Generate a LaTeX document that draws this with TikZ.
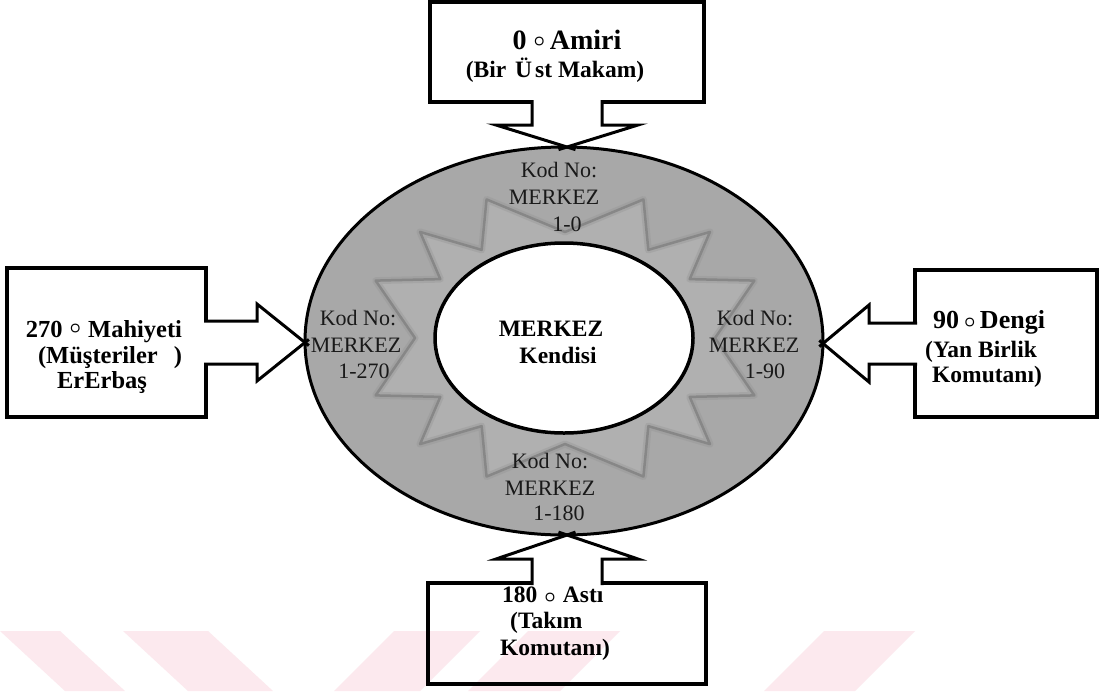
\documentclass[tikz,border=0pt]{standalone}
\usepackage{amsmath}
\usepackage{fontspec}
\setmainfont{Liberation Serif}
\usetikzlibrary{calc,shapes.geometric}

\definecolor{ringgray}{RGB}{168,168,168}
\definecolor{stargray}{RGB}{176,176,176}
\definecolor{staredge}{RGB}{135,135,135}
\definecolor{starhalo}{RGB}{150,150,150}
\definecolor{markpink}{RGB}{252,233,238}

\newcommand{\dg}[1][0pt]{\raisebox{#1}{\scalebox{0.8}{$\boldsymbol{\circ}$}}}

\begin{document}
\begin{tikzpicture}[x=1pt,y=-1pt,
  box/.style={draw=black,line width=3.2pt,rectangle,inner sep=0pt,outer sep=0pt},
  arrowline/.style={draw=black,line width=3pt,line join=miter,line cap=butt},
  lbl/.style={inner sep=0pt,anchor=base,text=black},
  bx/.style={lbl,font=\fontsize{#1}{#1}\selectfont\bfseries},
  ringtxt/.style={lbl,font=\fontsize{22}{22}\selectfont,text=black!90},
  starpath/.style={line join=round}]

\useasboundingbox (0,0) rectangle (1102,691);
\fill[white] (0,0) rectangle (1102,691);

% faint diagonal bands along the bottom edge
\fill[markpink] (0,631) -- (60,631) -- (125,691) -- (65,691) -- cycle;
\fill[markpink] (123,631) -- (208,631) -- (273,691) -- (188,691) -- cycle;
\fill[markpink] (394,631) -- (480,631) -- (420,691) -- (334,691) -- cycle;
\fill[markpink] (528,631) -- (620,631) -- (560,691) -- (468,691) -- cycle;
\fill[markpink] (824,631) -- (915,631) -- (855,691) -- (764,691) -- cycle;

% outer ring
\node[ellipse,draw=black,line width=3pt,fill=ringgray,minimum width=518pt,
      minimum height=388pt,inner sep=0pt,outer sep=0pt] (ring) at (564,341) {};

% twelve-pointed star inside the ring
\def\starring{(0:150 and 106) -- (22.5:205 and 150) -- (33.75:150 and 106) --
    (45:205 and 150) -- (56.25:150 and 106) -- (67.5:205 and 150) --
    (90:150 and 106) -- (112.5:205 and 150) -- (123.75:150 and 106) --
    (135:205 and 150) -- (146.25:150 and 106) -- (157.5:205 and 150) --
    (180:150 and 106) -- (202.5:205 and 150) -- (213.75:150 and 106) --
    (225:205 and 150) -- (236.25:150 and 106) -- (247.5:205 and 150) --
    (270:150 and 106) -- (292.5:205 and 150) -- (303.75:150 and 106) --
    (315:205 and 150) -- (326.25:150 and 106) -- (337.5:205 and 150) -- cycle}
\begin{scope}[shift={(565,338)}]
  \fill[stargray] \starring;
  \draw[starpath,starhalo,line width=7pt,opacity=0.4] \starring;
  \draw[starpath,staredge,line width=2.5pt] \starring;
\end{scope}

% centre
\node[ellipse,draw=black,line width=3.5pt,fill=white,minimum width=258pt,
      minimum height=190pt,inner sep=0pt,outer sep=0pt] (core) at (564,338) {};
\node[bx=23.5] (coreA) at (551,336) {MERKEZ};
\node[bx=23.5] (coreB) at (558,363) {Kendisi};

% ring labels
\node[ringtxt] (nA1) at (559,177) {Kod No:};
\node[ringtxt] (nA2) at (554,204) {MERKEZ};
\node[ringtxt] (nA3) at (567,231) {1-0};
\node[ringtxt] (wA1) at (358,325) {Kod No:};
\node[ringtxt] (wA2) at (356,352) {MERKEZ};
\node[ringtxt] (wA3) at (364,378) {1-270};
\node[ringtxt] (eA1) at (755,325) {Kod No:};
\node[ringtxt] (eA2) at (754,352) {MERKEZ};
\node[ringtxt] (eA3) at (765,378) {1-90};
\node[ringtxt] (sA1) at (550,468) {Kod No:};
\node[ringtxt] (sA2) at (550,495) {MERKEZ};
\node[ringtxt] (sA3) at (559,520) {1-180};

% outer boxes
\node[box,minimum width=274pt,minimum height=100pt] (amir) at (567,52) {};
\node[box,minimum width=199pt,minimum height=149pt] (mahiy) at (106.5,342.5) {};
\node[box,minimum width=182pt,minimum height=147pt] (deng) at (1006,343.5) {};
\node[box,minimum width=278pt,minimum height=101pt] (ast) at (567,633.5) {};

\node[bx=28] (amirA) at (567,49) {0 \dg[3pt]\,Amiri};
\node[bx=23.5] (amirB) at (555,77) {(Bir\hspace{9pt}Ü\hspace{3pt}st Makam)};

\node[bx=24.5] (mahA) at (104,337) {270\hspace{7pt}\dg[4pt]\hspace{7pt}Mahiyeti};
\node[bx=24.5] (mahB) at (110,363) {(Müşteriler\hspace{16pt})};
\node[bx=24.5] (mahC) at (102,388) {ErErbaş};

\node[bx=26,anchor=base west] (dengA) at (933,328) {90\hspace{5pt}\dg[1pt]\,Dengi};
\node[bx=23.5,anchor=base west] (dengB) at (925,357) {(Yan Birlik};
\node[bx=23.5,anchor=base west] (dengC) at (932,382) {Komutanı)};

\node[bx=23.5,anchor=base west] (astA) at (502,602) {180\hspace{7pt}\dg\hspace{7pt}Astı};
\node[bx=23.5,anchor=base west] (astB) at (510,628) {(Takım};
\node[bx=23.5,anchor=base west] (astC) at (500,655) {Komutanı)};

% block arrow: top box -> ring
\coordinate (tT) at (amir.south |- ring.north);
\coordinate (t1) at ($(amir.south)+(-35,-2)$);
\coordinate (t2) at ($(tT)+(-35,-22)$);
\coordinate (t3) at ($(tT)+(-71,-22)$);
\coordinate (t4) at ($(tT)+(71,-22)$);
\coordinate (t5) at ($(tT)+(35,-22)$);
\coordinate (t6) at ($(amir.south)+(35,-2)$);
\fill[white] (t1) -- (t2) -- (t3) -- (tT) -- (t4) -- (t5) -- (t6) -- cycle;
\draw[arrowline] (t1) -- (t2) -- (t3) -- ($(t3)!1.12!(tT)$);
\draw[arrowline] (t6) -- (t5) -- (t4) -- ($(t4)!1.12!(tT)$);

% block arrow: bottom box -> ring
\coordinate (bT) at (ast.north |- ring.south);
\coordinate (b1) at ($(ast.north)+(-35,2)$);
\coordinate (b2) at ($(bT)+(-35,24)$);
\coordinate (b3) at ($(bT)+(-71,24)$);
\coordinate (b4) at ($(bT)+(71,24)$);
\coordinate (b5) at ($(bT)+(35,24)$);
\coordinate (b6) at ($(ast.north)+(35,2)$);
\fill[white] (b1) -- (b2) -- (b3) -- (bT) -- (b4) -- (b5) -- (b6) -- cycle;
\draw[arrowline] (b1) -- (b2) -- (b3) -- ($(b3)!1.12!(bT)$);
\draw[arrowline] (b6) -- (b5) -- (b4) -- ($(b4)!1.12!(bT)$);

% block arrow: left box -> ring
\coordinate (lT) at (ring.west |- mahiy.east);
\coordinate (l1) at ($(mahiy.east)+(-2,-21.5)$);
\coordinate (l2) at ($(lT)+(-48,-21.5)$);
\coordinate (l3) at ($(lT)+(-48,-38.5)$);
\coordinate (l4) at ($(lT)+(-48,38.5)$);
\coordinate (l5) at ($(lT)+(-48,21.5)$);
\coordinate (l6) at ($(mahiy.east)+(-2,21.5)$);
\fill[white] (l1) -- (l2) -- (l3) -- (lT) -- (l4) -- (l5) -- (l6) -- cycle;
\draw[arrowline] (l1) -- (l2) -- (l3) -- ($(l3)!1.08!(lT)$);
\draw[arrowline] (l6) -- (l5) -- (l4) -- ($(l4)!1.08!(lT)$);

% block arrow: right box -> ring
\coordinate (rT) at (ring.east |- deng.west);
\coordinate (r1) at ($(deng.west)+(2,-20.5)$);
\coordinate (r2) at ($(rT)+(46,-20.5)$);
\coordinate (r3) at ($(rT)+(46,-38.5)$);
\coordinate (r4) at ($(rT)+(46,38.5)$);
\coordinate (r5) at ($(rT)+(46,20.5)$);
\coordinate (r6) at ($(deng.west)+(2,20.5)$);
\fill[white] (r1) -- (r2) -- (r3) -- (rT) -- (r4) -- (r5) -- (r6) -- cycle;
\draw[arrowline] (r1) -- (r2) -- (r3) -- ($(r3)!1.08!(rT)$);
\draw[arrowline] (r6) -- (r5) -- (r4) -- ($(r4)!1.08!(rT)$);

\end{tikzpicture}
\end{document}
